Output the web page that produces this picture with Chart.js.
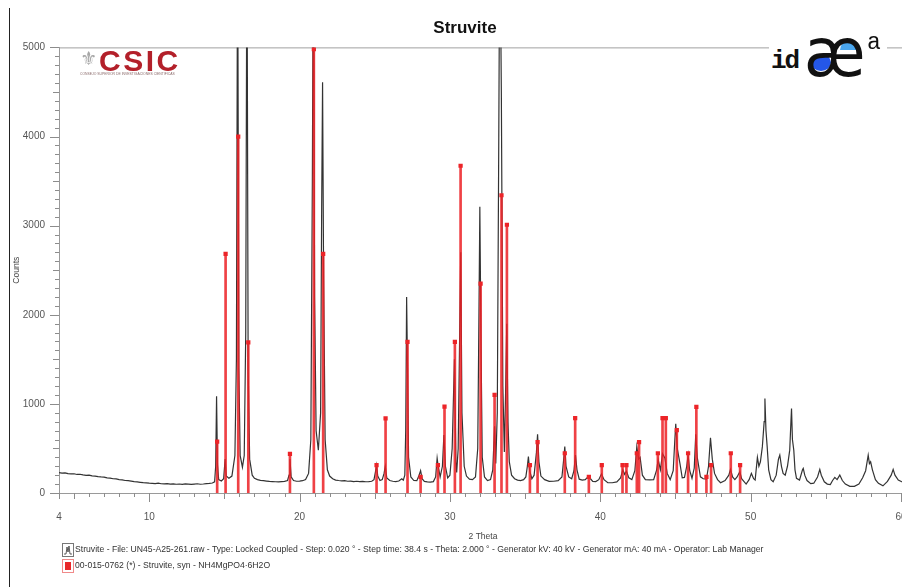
<!DOCTYPE html>
<html>
<head>
<meta charset="utf-8">
<script src="https://cdn.jsdelivr.net/npm/chart.js@4.4.0/dist/chart.umd.min.js"></script>
<style>
  html, body { margin: 0; padding: 0; background: #fff; overflow: hidden; width: 902px; height: 587px; }
  #wrap { position: relative; width: 930px; height: 587px; font-family: "Liberation Sans", Arial, sans-serif; }
  #frame { position: absolute; left: 9px; top: 8px; width: 1px; height: 579px; background: #222; }
  .csic { position: absolute; left: 80px; top: 46px; width: 104px; height: 32px; }
  .csic .crest { position: absolute; left: 0; top: 1px; font-family: "DejaVu Sans"; font-size: 19px; color: #a7a7a7; }
  .csic .word { position: absolute; left: 19px; top: -2px; font-size: 30px; font-weight: bold; color: #b3202a; letter-spacing: 2.5px; }
  .csic .sub { position: absolute; left: 0; top: 26px; font-size: 3.4px; color: #8a6a6a; white-space: nowrap; }
  .idaea { position: absolute; left: 769px; top: 28px; width: 118px; height: 50px; background: #fff; }
  .idaea .id { position: absolute; left: 2px; top: 18px; font-family: "Liberation Mono", monospace; font-weight: bold; font-size: 26px; color: #111; letter-spacing: -2px; }
  .idaea .b1 { position: absolute; left: 42px; top: 26px; width: 20px; height: 17px; border-radius: 50%; background: #2457e8; }
  .idaea .b2 { position: absolute; left: 71px; top: 12px; width: 20px; height: 10px; border-radius: 10px 10px 0 0; background: #4aa6ee; }
  .idaea .ae { position: absolute; left: 35px; top: -15px; font-family: "DejaVu Sans"; font-size: 68px; color: #111; transform: scaleX(0.92); transform-origin: left top; }
  .idaea .a { position: absolute; left: 98px; top: 2px; font-family: "Liberation Mono", monospace; font-size: 23px; color: #111; }
  .leg { position: absolute; left: 62px; font-size: 8.65px; color: #333; white-space: nowrap; }
  .leg svg { vertical-align: middle; margin-right: 1px; }
</style>
</head>
<body>
<div id="wrap">
  <canvas id="xrd" width="930" height="587"></canvas>
  <div id="frame"></div>
  <div class="csic"><span class="crest">⚜</span><span class="word">CSIC</span><span class="sub">CONSEJO SUPERIOR DE INVESTIGACIONES CIENTÍFICAS</span></div>
  <div class="idaea"><span class="id">id</span><span class="b1"></span><span class="b2"></span><span class="ae">æ</span><span class="a">a</span></div>
  <div class="leg" style="top:543px"><svg width="12" height="14"><rect x="0.5" y="0.5" width="11" height="13" fill="#fff" stroke="#777"/><polyline points="2,11 4,11 5,4 6,9 7,3 8,11 10,11" fill="none" stroke="#333" stroke-width="0.8"/></svg>Struvite - File: UN45-A25-261.raw - Type: Locked Coupled - Step: 0.020 ° - Step time: 38.4 s - Theta: 2.000 ° - Generator kV: 40 kV - Generator mA: 40 mA - Operator: Lab Manager</div>
  <div class="leg" style="top:559px"><svg width="12" height="14"><rect x="0.5" y="0.5" width="11" height="13" fill="#fff" stroke="#f08a8a"/><rect x="3" y="3" width="6" height="8" fill="#e8282a"/></svg>00-015-0762 (*) - Struvite, syn - NH4MgPO4·6H2O</div>
</div>
<script>
// measured scan: [2theta, counts]
const scanPoints = [
  [4.0,228],[4.2,222],[4.4,226],[4.6,218],[4.8,214],[5.0,216],[5.2,208],[5.4,210],[5.6,203],[5.8,198],
  [6.0,201],[6.2,192],[6.4,190],[6.6,184],[6.8,180],[7.0,178],[7.2,170],[7.4,167],[7.6,160],[7.8,158],
  [8.0,150],[8.2,148],[8.4,140],[8.6,138],[8.8,133],[9.0,128],[9.2,124],[9.4,120],[9.6,116],[9.8,114],
  [10.0,110],[10.2,108],[10.4,106],[10.6,110],[10.8,104],[11.0,102],[11.2,106],[11.4,100],[11.6,103],[11.8,98],
  [12.0,101],[12.2,97],[12.4,102],[12.6,99],[12.8,96],[13.0,100],[13.2,104],[13.4,98],[13.6,101],[13.8,105],
  [14.0,108],[14.2,112],[14.35,125],[14.42,300],[14.48,1085],[14.54,320],[14.62,150],[14.8,135],[14.95,160],[15.05,380],
  [15.12,190],[15.3,165],[15.5,190],[15.7,420],[15.8,1500],[15.88,6500],[15.96,1400],[16.05,420],[16.2,290],[16.32,420],
  [16.42,1800],[16.5,6500],[16.58,1400],[16.68,380],[16.85,200],[17.0,165],[17.2,150],[17.4,142],[17.6,138],[17.8,134],
  [18.0,130],[18.2,128],[18.4,126],[18.6,124],[18.8,128],[19.0,130],[19.2,140],[19.3,200],[19.36,380],[19.44,180],
  [19.6,140],[19.8,132],[20.0,134],[20.2,138],[20.4,150],[20.6,220],[20.75,600],[20.85,3500],[20.92,6500],[21.0,2200],
  [21.1,700],[21.25,480],[21.4,900],[21.47,3200],[21.53,4608],[21.6,2400],[21.7,600],[21.85,260],[22.0,190],[22.2,160],
  [22.4,145],[22.6,140],[22.8,136],[23.0,138],[23.2,132],[23.4,134],[23.6,128],[23.8,132],[24.0,128],[24.2,130],
  [24.4,126],[24.6,128],[24.8,132],[24.95,150],[25.05,240],[25.12,310],[25.2,190],[25.35,140],[25.5,150],[25.62,220],
  [25.7,300],[25.8,170],[26.0,140],[26.2,132],[26.4,128],[26.6,134],[26.8,160],[26.9,145],[27.0,200],[27.06,700],
  [27.12,2200],[27.18,1400],[27.25,400],[27.4,180],[27.6,140],[27.8,138],[27.95,200],[28.05,250],[28.15,160],[28.3,130],
  [28.5,125],[28.7,122],[28.9,128],[29.05,180],[29.15,390],[29.22,300],[29.35,180],[29.5,300],[29.6,650],[29.7,300],
  [29.85,170],[30.0,200],[30.15,500],[30.3,1500],[30.4,350],[30.45,230],[30.55,500],[30.65,1800],[30.72,2700],[30.8,900],
  [30.95,300],[31.1,190],[31.3,155],[31.5,150],[31.7,180],[31.85,500],[31.93,2000],[31.99,3211],[32.06,1800],[32.15,400],
  [32.3,180],[32.5,140],[32.7,150],[32.85,260],[32.97,750],[33.05,330],[33.15,900],[33.25,4000],[33.32,6500],[33.42,4500],
  [33.52,1200],[33.62,460],[33.7,1100],[33.78,1900],[33.86,800],[33.95,350],[34.1,200],[34.3,160],[34.5,145],[34.7,140],
  [34.9,150],[35.05,180],[35.15,300],[35.22,410],[35.3,250],[35.45,160],[35.6,200],[35.75,450],[35.83,660],[35.92,350],
  [36.05,190],[36.3,150],[36.6,130],[36.9,132],[37.2,138],[37.45,180],[37.58,400],[37.64,520],[37.72,300],[37.9,180],
  [38.1,160],[38.25,250],[38.35,425],[38.45,260],[38.6,155],[38.8,145],[39.0,150],[39.2,185],[39.35,160],[39.5,130],
  [39.7,128],[39.9,150],[40.08,215],[40.25,150],[40.5,115],[40.8,115],[41.1,125],[41.35,170],[41.5,260],[41.62,210],
  [41.74,245],[41.9,170],[42.1,150],[42.3,250],[42.43,520],[42.55,380],[42.65,400],[42.8,200],[43.0,150],[43.3,148],
  [43.55,150],[43.75,260],[43.85,375],[44.0,260],[44.14,440],[44.3,390],[44.45,220],[44.65,150],[44.85,250],[44.96,600],
  [45.02,777],[45.12,500],[45.3,330],[45.45,170],[45.6,175],[45.75,300],[45.84,425],[45.95,250],[46.1,165],[46.25,280],
  [46.35,660],[46.45,400],[46.66,182],[46.85,160],[47.06,155],[47.2,300],[47.33,620],[47.45,380],[47.6,220],[47.8,150],
  [48.0,115],[48.3,140],[48.55,200],[48.66,265],[48.8,180],[48.95,150],[49.1,180],[49.28,240],[49.4,160],[49.7,100],
  [49.9,150],[50.05,220],[50.2,160],[50.3,145],[50.45,400],[50.55,300],[50.65,350],[50.78,520],[50.9,800],[50.95,1059],
  [51.02,700],[51.1,520],[51.2,260],[51.35,150],[51.5,126],[51.7,200],[51.85,380],[51.94,425],[52.05,300],[52.16,220],
  [52.3,200],[52.45,300],[52.6,481],[52.68,800],[52.72,947],[52.78,600],[52.87,481],[52.95,260],[53.05,164],[53.25,145],
  [53.45,260],[53.5,276],[53.6,200],[53.75,140],[54.0,105],[54.2,110],[54.45,180],[54.6,265],[54.7,200],[54.9,126],
  [55.1,100],[55.3,95],[55.45,140],[55.6,175],[55.75,150],[55.93,201],[56.1,140],[56.3,100],[56.6,75],[56.9,75],
  [57.2,100],[57.45,170],[57.65,250],[57.82,425],[57.9,330],[57.98,350],[58.1,260],[58.3,150],[58.5,108],[58.8,80],
  [59.1,130],[59.35,200],[59.48,265],[59.6,200],[59.82,145],[60.05,126],[60.2,120],[60.4,118]
];

// reference card 00-015-0762 sticks
const refTheta = [14.52, 15.08, 15.92, 16.59, 19.36, 20.95, 21.57, 25.12, 25.72, 27.18, 28.05, 29.2, 29.64,
  30.33, 30.71, 32.04, 32.97, 33.43, 33.79, 35.32, 35.83, 37.64, 38.33, 39.24, 40.1, 41.48, 41.74, 42.43,
  42.58, 43.83, 44.14, 44.36, 45.09, 45.84, 46.39, 47.06, 47.37, 48.68, 49.3];
const refIntensity = [576, 2684, 4000, 1691, 440, 4980, 2684, 312, 836, 1695, 182, 312, 970,
  1695, 3672, 2350, 1100, 3341, 3010, 312, 572, 446, 840, 182, 312, 312, 312, 446,
  572, 446, 840, 840, 706, 446, 967, 182, 312, 446, 312];

const xLabels = [4, 10, 20, 30, 40, 50, 60];
const yLabels = [0, 1000, 2000, 3000, 4000, 5000];

const red = 'rgba(236, 32, 36, 0.85)';
const sticks = refTheta.map((t, i) => ({x: t, y: refIntensity[i]}));

const tickMarks = {
  id: 'tickMarks',
  beforeDatasetsDraw(chart) {
    const {ctx, chartArea: a} = chart;
    ctx.save();
    ctx.strokeStyle = '#a0a0a0';
    ctx.lineWidth = 1;
    ctx.beginPath();
    ctx.moveTo(a.left, a.top + 0.5);
    ctx.lineTo(a.right, a.top + 0.5);
    ctx.stroke();
    ctx.restore();
  },
  afterDraw(chart) {
    const {ctx, chartArea: a, scales: {x, y}} = chart;
    ctx.save();
    ctx.strokeStyle = '#8c8c8c';
    ctx.lineWidth = 1;
    ctx.beginPath();
    x.ticks.forEach(t => {
      if (!Number.isInteger(t.value)) return;
      const px = Math.round(x.getPixelForValue(t.value)) + 0.5;
      const len = t.value % 10 === 0 ? 9 : (t.value % 5 === 0 || t.value === 4) ? 6 : 4;
      ctx.moveTo(px, a.bottom);
      ctx.lineTo(px, a.bottom + len);
    });
    y.ticks.forEach(t => {
      const py = Math.round(y.getPixelForValue(t.value)) + 0.5;
      const len = t.value % 1000 === 0 ? 9 : t.value % 500 === 0 ? 6 : 4;
      ctx.moveTo(a.left - len, py);
      ctx.lineTo(a.left, py);
    });
    ctx.stroke();
    ctx.restore();
  }
};

new Chart(document.getElementById('xrd'), {
  type: 'scatter',
  data: {
    datasets: [
      {
        type: 'scatter',
        data: sticks,
        pointStyle: 'rect',
        pointRadius: 3,
        backgroundColor: 'rgb(236, 36, 40)',
        borderWidth: 0,
        order: 0
      },
      {
        type: 'bar',
        data: sticks,
        backgroundColor: red,
        borderWidth: 0,
        barThickness: 2,
        grouped: false,
        order: 1
      },
      {
        type: 'line',
        data: scanPoints.map(p => ({x: p[0], y: p[1]})),
        borderColor: '#333',
        borderWidth: 1.2,
        pointRadius: 0,
        tension: 0,
        order: 2
      }
    ]
  },
  plugins: [tickMarks],
  options: {
    responsive: false,
    animation: false,
    layout: {padding: {left: 23, right: 23, top: 0, bottom: 44}},
    plugins: {
      legend: {display: false},
      tooltip: {enabled: false},
      title: {
        display: true,
        text: 'Struvite',
        color: '#111',
        font: {family: 'Liberation Sans', size: 17, weight: 'bold'},
        padding: {top: 18, bottom: 9}
      }
    },
    scales: {
      x: {
        type: 'linear',
        min: 4,
        max: 60.4,
        offset: false,
        grid: {display: false, drawTicks: false, offset: false},
        border: {color: '#9a9a9a'},
        ticks: {
          stepSize: 1,
          includeBounds: false,
          autoSkip: false,
          maxRotation: 0,
          padding: 18,
          color: '#555',
          font: {family: 'Liberation Sans', size: 10},
          callback: v => xLabels.includes(v) ? String(v) : ''
        },
        title: {
          display: true,
          text: '2 Theta',
          color: '#444',
          font: {family: 'Liberation Sans', size: 8.5},
          padding: {top: 0, bottom: 1}
        },
        afterFit: s => { s.height = 50; }
      },
      y: {
        min: 0,
        max: 5000,
        grid: {display: false, drawTicks: false},
        border: {color: '#9a9a9a'},
        ticks: {
          stepSize: 100,
          autoSkip: false,
          padding: 14,
          color: '#555',
          font: {family: 'Liberation Sans', size: 10},
          callback: v => yLabels.includes(v) ? String(v) : ''
        },
        title: {
          display: true,
          text: 'Counts',
          color: '#444',
          font: {family: 'Liberation Sans', size: 8.5},
          padding: {top: -11, bottom: 0}
        },
        afterFit: s => { s.width = 36; }
      }
    }
  }
});
</script>
</body>
</html>
